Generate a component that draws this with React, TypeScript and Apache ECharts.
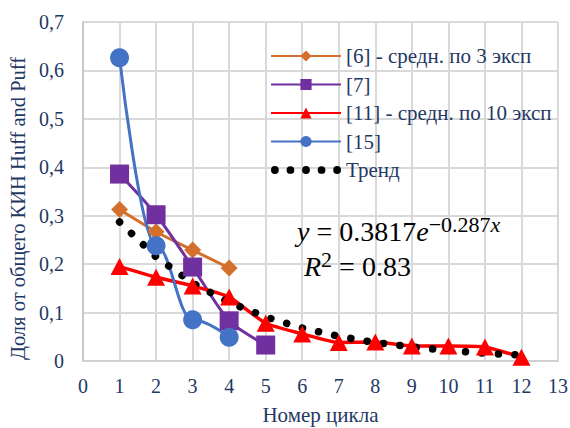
import React, { useEffect, useRef } from "react";
import * as echarts from "echarts";

const cycles = [1, 2, 3, 4, 5, 6, 7, 8, 9, 10, 11, 12];
const ref6 = [0.313, 0.267, 0.229, 0.192];
const ref7 = [0.386, 0.302, 0.194, 0.083, 0.033];
const ref11 = [0.195, 0.173, 0.155, 0.132, 0.078, 0.056, 0.038, 0.039, 0.031, 0.031, 0.029, 0.008];
const ref15 = [0.626, 0.238, 0.085, 0.049];
const trend = [0.287, 0.215, 0.161, 0.121, 0.091, 0.068, 0.051, 0.038, 0.029, 0.022, 0.016, 0.012];
const seriesNames = ["[6] - средн. по 3 эксп", "[7]", "[11] - средн. по 10 эксп", "[15]", "Тренд"];
const xAxisTitle = "Номер цикла";
const yAxisTitle = "Доля от общего КИН Huff and Puff";

const NAVY = "#1F3864";
const SERIF = "Liberation Serif";

// five dots for the trend legend icon
const DOTS_ICON =
  "path://M0,4a4,4 0 1,0 8,0a4,4 0 1,0 -8,0Z M16,4a4,4 0 1,0 8,0a4,4 0 1,0 -8,0Z M32,4a4,4 0 1,0 8,0a4,4 0 1,0 -8,0Z M48,4a4,4 0 1,0 8,0a4,4 0 1,0 -8,0Z M64,4a4,4 0 1,0 8,0a4,4 0 1,0 -8,0Z";

function pairs(vals: number[]) {
  return vals.map((v, i) => [cycles[i], v]);
}

export default function App() {
  const ref = useRef<HTMLDivElement>(null);
  useEffect(() => {
    if (!ref.current) return;
    const chart = echarts.init(ref.current, undefined, { renderer: "svg" });
    const richMain = {
      n: { fontSize: 28, fontFamily: SERIF, color: "#000", lineHeight: 32, verticalAlign: "bottom" },
      i: { fontSize: 28, fontFamily: SERIF, fontStyle: "italic", color: "#000", lineHeight: 32, verticalAlign: "bottom" },
      s: { fontSize: 22, fontFamily: SERIF, color: "#000", lineHeight: 22, verticalAlign: "top" },
      si: { fontSize: 22, fontFamily: SERIF, fontStyle: "italic", color: "#000", lineHeight: 22, verticalAlign: "top" },
    };
    chart.setOption({
      animation: false,
      backgroundColor: "#fff",
      textStyle: { fontFamily: SERIF },
      grid: { left: 83, right: 12, top: 22, bottom: 67, containLabel: false, outerBoundsMode: "none" },
      xAxis: {
        type: "value",
        min: 0,
        max: 13,
        interval: 1,
        name: xAxisTitle,
        nameLocation: "middle",
        nameGap: 43,
        nameTextStyle: { color: NAVY, fontSize: 21, fontFamily: SERIF },
        axisLine: { show: true, lineStyle: { color: "#D0D0D0", width: 2 } },
        axisTick: { show: false },
        axisLabel: { color: NAVY, fontSize: 20, fontFamily: SERIF, margin: 15 },
        splitLine: { show: true, lineStyle: { color: "#D9D9D9", width: 2 } },
      },
      yAxis: {
        type: "value",
        min: 0,
        max: 0.7,
        interval: 0.1,
        name: yAxisTitle,
        nameLocation: "middle",
        nameGap: 51,
        nameTextStyle: { color: NAVY, fontSize: 20.5, fontFamily: SERIF, padding: [0, 34, 0, 0] },
        axisLine: { show: true, lineStyle: { color: "#C8C8C8", width: 2 } },
        axisTick: { show: false },
        axisLabel: {
          color: NAVY,
          fontSize: 20,
          fontFamily: SERIF,
          margin: 19,
          formatter: (v: number) => (v === 0 ? "0" : v.toFixed(1).replace(".", ",")),
        },
        splitLine: { show: true, lineStyle: { color: "#D9D9D9", width: 2 } },
      },
      legend: {
        orient: "vertical",
        left: 270,
        top: 45,
        padding: 0,
        itemWidth: 70,
        itemHeight: 14,
        itemGap: 6.5,
        textStyle: { color: NAVY, fontSize: 21, fontFamily: SERIF, lineHeight: 22 },
        data: [
          seriesNames[0],
          seriesNames[1],
          seriesNames[2],
          seriesNames[3],
          { name: seriesNames[4], icon: DOTS_ICON, itemStyle: { color: "#000" } },
        ],
      },
      series: [
        {
          name: seriesNames[0],
          type: "line",
          data: pairs(ref6),
          symbol: "diamond",
          symbolSize: 17,
          smooth: 0.2,
          color: "#D4702C",
          lineStyle: { width: 3, color: "#D4702C" },
          itemStyle: { color: "#D4702C" },
        },
        {
          name: seriesNames[1],
          type: "line",
          data: pairs(ref7),
          symbol: "rect",
          symbolSize: 19,
          smooth: 0.25,
          color: "#7030A0",
          lineStyle: { width: 3, color: "#7030A0" },
          itemStyle: { color: "#7030A0" },
        },
        {
          name: seriesNames[2],
          type: "line",
          data: pairs(ref11),
          symbol: "triangle",
          symbolSize: [18, 17],
          smooth: 0.15,
          color: "#FF0000",
          lineStyle: { width: 3.5, color: "#FF0000" },
          itemStyle: { color: "#FF0000" },
        },
        {
          name: seriesNames[3],
          type: "line",
          data: pairs(ref15),
          symbol: "circle",
          symbolSize: 19,
          smooth: 0.4,
          smoothMonotone: "x",
          color: "#4472C4",
          lineStyle: { width: 3, color: "#4472C4" },
          itemStyle: { color: "#4472C4" },
        },
        {
          name: seriesNames[4],
          type: "line",
          data: pairs(trend),
          symbol: "none",
          smooth: false,
          color: "#000",
          lineStyle: { width: 7.5, color: "#000", type: [0.1, 16.4], cap: "round" },
          z: 3,
        },
      ],
      graphic: [
        {
          type: "text",
          left: 297,
          top: 213,
          z: 10,
          style: {
            text: "{i|y}{n| = 0.3817}{i|e}{s|−0.287}{si|x}",
            rich: richMain,
          },
        },
        {
          type: "text",
          left: 304,
          top: 248,
          z: 10,
          style: {
            text: "{i|R}{s|2}{n| = 0.83}",
            rich: richMain,
          },
        },
      ],
    });
    return () => chart.dispose();
  }, []);
  return <div ref={ref} style={{ width: 570, height: 428, position: "absolute", left: 0, top: 0 }} />;
}
